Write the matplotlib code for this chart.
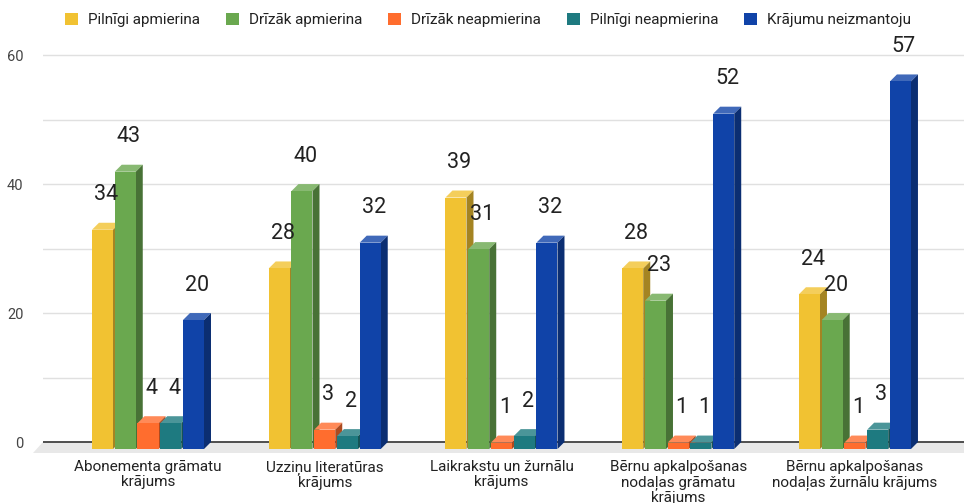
import matplotlib
matplotlib.use('Agg')
import matplotlib.pyplot as plt
from matplotlib.patches import Polygon, Patch
import numpy as np

# data
categories = ['Abonementa grāmatu\nkrājums',
              'Uzziņu literatūras\nkrājums',
              'Laikrakstu un žurnālu\nkrājums',
              'Bērnu apkalpošanas\nnodaļas grāmatu\nkrājums',
              'Bērnu apkalpošanas\nnodaļas žurnālu krājums']
series_names = ['Pilnīgi apmierina', 'Drīzāk apmierina', 'Drīzāk neapmierina',
                'Pilnīgi neapmierina', 'Krājumu neizmantoju']
pilnigi_apm = [34, 28, 39, 28, 24]
drizak_apm = [43, 40, 31, 23, 20]
drizak_neapm = [4, 3, 1, 1, 1]
pilnigi_neapm = [4, 2, 2, 1, 3]
neizmantoju = [20, 32, 32, 52, 57]
series = [pilnigi_apm, drizak_apm, drizak_neapm, pilnigi_neapm, neizmantoju]

colors = ['#f1c232', '#6aa84f', '#ff6d2e', '#1e7a80', '#1043a8']


def shade(c, f):
    rgb = np.array(matplotlib.colors.to_rgb(c))
    if f < 1:
        return tuple(rgb * f)
    return tuple(rgb + (1 - rgb) * (f - 1))


plt.rcParams['font.family'] = ['Roboto', 'DejaVu Sans']

fig = plt.figure(figsize=(9.64, 5.03), dpi=100)
ax = fig.add_axes([43 / 964, 46.8 / 503, 921 / 964, 414 / 503])

xl, xr = -0.594, 4.617
ax.set_xlim(xl, xr)
ax.set_ylim(-2.2, 62)

# pixel scale: 176.75 px per group, 6.45 px per unit
pitch = 0.1287
w = 0.119
dx = 0.0396
dy = 1.085

# floor
floor = Polygon([(xl, 0), (xr, 0), (xr, -1.7), (xl - 0.056, -1.7)],
                closed=True, facecolor='#e8e8e8', edgecolor='none',
                clip_on=False, zorder=1)
ax.add_patch(floor)
ax.axhline(0, color='#333333', lw=1.2, zorder=1.5)

x = np.arange(len(categories))
for s, vals in enumerate(series):
    c = colors[s]
    xc = x + (s - 2) * pitch
    z = 3 + s
    ax.bar(xc, vals, width=w, bottom=-dy, color=c, zorder=z + 0.2,
           clip_on=False, linewidth=0)
    for g, v in enumerate(vals):
        x0 = xc[g] - w / 2
        top = Polygon([(x0, v - dy), (x0 + dx, v), (x0 + w + dx, v), (x0 + w, v - dy)],
                      closed=True, facecolor=shade(c, 1.2), edgecolor='none',
                      zorder=z, clip_on=False)
        side = Polygon([(x0 + w, -dy), (x0 + w + dx, 0), (x0 + w + dx, v), (x0 + w, v - dy)],
                       closed=True, facecolor=shade(c, 0.68), edgecolor='none',
                       zorder=z, clip_on=False)
        ax.add_patch(top)
        ax.add_patch(side)
        ax.annotate(str(v), (xc[g] + dx / 2, v), xytext=(0, 28),
                    textcoords='offset pixels', ha='center', va='center',
                    fontsize=15.5, color='#222222', zorder=20, clip_on=False)

ax.set_yticks([0, 20, 40, 60])
ax.set_yticks([10, 30, 50], minor=True)
ax.grid(True, which='both', axis='y', color='#e0e0e0', lw=1, zorder=0)
ax.set_axisbelow(True)
ax.tick_params(axis='y', which='both', length=0, pad=14, labelsize=10.5,
               labelcolor='#444444')
ax.set_xticks(x)
ax.set_xticklabels(categories, fontsize=11, color='#222222', linespacing=1.1)
ax.tick_params(axis='x', length=0, pad=3)
for sp in ax.spines.values():
    sp.set_visible(False)

handles = [Patch(facecolor=c, edgecolor='none') for c in colors]
fig.legend(handles, series_names, loc='center', bbox_to_anchor=(488 / 964, 1 - 20 / 503),
           ncol=5, frameon=False, fontsize=11, handlelength=0.85, handleheight=0.85,
           handletextpad=0.65, columnspacing=1.7, labelcolor='#222222')

fig.savefig('out.png', dpi=100)
